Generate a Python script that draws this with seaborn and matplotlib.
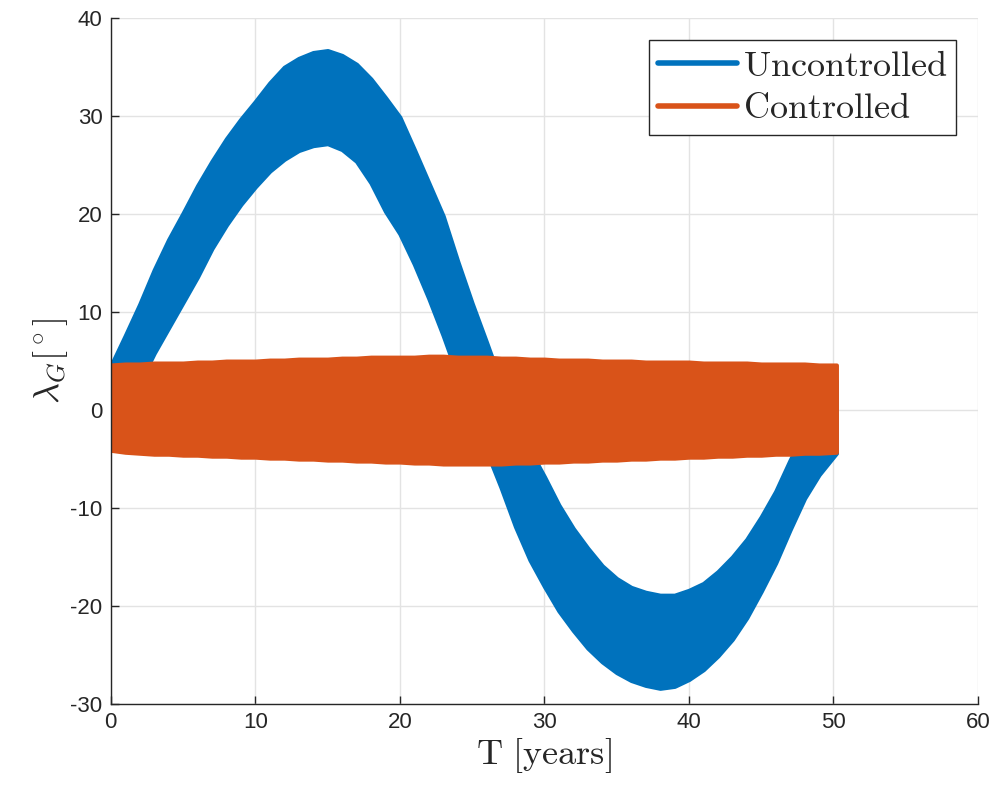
import matplotlib
matplotlib.use("Agg")
import matplotlib.pyplot as plt
import seaborn as sns
import pandas as pd

# envelope of each band (top and bottom edge), one value per year
t = [0, 1, 2, 3, 4, 5, 6, 7, 8, 9, 10, 11, 12, 13, 14, 15, 16, 17, 18, 19, 20,
     21, 22, 23, 24, 25, 26, 27, 28, 29, 30, 31, 32, 33, 34, 35, 36, 37, 38, 39, 40,
     41, 42, 43, 44, 45, 46, 47, 48, 49, 50.2]

unc_upper = [4.5, 7.6, 10.8, 14.3, 17.4, 20.1, 22.9, 25.4, 27.7, 29.7, 31.5,
             33.4, 35.0, 35.9, 36.5, 36.7, 36.2, 35.3, 33.8, 31.9, 29.9,
             26.6, 23.2, 19.8, 15.2, 10.9, 6.9, 2.8, -0.8, -4.1, -6.8,
             -9.7, -12.1, -14.1, -15.9, -17.2, -18.1, -18.6, -18.9, -18.9, -18.4,
             -17.7, -16.5, -15.0, -13.2, -10.9, -8.3, -5.1, -2.2, 0.6, 3.0]
unc_lower = [-4.0, -0.5, 2.8, 5.8, 8.4, 11.0, 13.6, 16.5, 18.9, 21.0, 22.8,
             24.4, 25.6, 26.5, 27.0, 27.2, 26.6, 25.4, 23.2, 20.3, 18.0,
             14.9, 11.4, 7.6, 3.5, -0.4, -4.2, -7.9, -11.9, -15.3, -18.0,
             -20.5, -22.5, -24.3, -25.7, -26.8, -27.6, -28.1, -28.4, -28.2, -27.5,
             -26.5, -25.1, -23.4, -21.2, -18.5, -15.6, -12.2, -9.0, -6.6, -4.4]

ctr_upper = [4.6, 4.7, 4.7, 4.8, 4.8, 4.8, 4.9, 4.9, 5.0, 5.0, 5.0,
             5.1, 5.1, 5.2, 5.2, 5.2, 5.3, 5.3, 5.4, 5.4, 5.4,
             5.4, 5.5, 5.5, 5.4, 5.4, 5.4, 5.3, 5.3, 5.2, 5.2,
             5.1, 5.1, 5.1, 5.0, 5.0, 5.0, 4.9, 4.9, 4.9, 4.9,
             4.8, 4.8, 4.8, 4.8, 4.7, 4.7, 4.7, 4.7, 4.6, 4.6]
ctr_lower = [-4.1, -4.3, -4.4, -4.5, -4.5, -4.6, -4.6, -4.7, -4.7, -4.8, -4.8,
             -4.9, -4.9, -5.0, -5.0, -5.1, -5.1, -5.2, -5.2, -5.3, -5.3,
             -5.4, -5.4, -5.5, -5.5, -5.5, -5.5, -5.5, -5.4, -5.4, -5.3,
             -5.3, -5.2, -5.2, -5.1, -5.1, -5.0, -5.0, -4.9, -4.9, -4.8,
             -4.8, -4.7, -4.7, -4.6, -4.6, -4.5, -4.5, -4.4, -4.4, -4.3]

labels = ["Uncontrolled", "Controlled"]
colors = ["#0072BD", "#D95319"]

# long table: two values per time, the band covers min..max
rows = []
for name, up, lo in [(labels[0], unc_upper, unc_lower), (labels[1], ctr_upper, ctr_lower)]:
    for ti, u, l in zip(t, up, lo):
        rows.append((ti, u, name))
        rows.append((ti, l, name))
df = pd.DataFrame(rows, columns=["t", "lam", "series"])

sns.set_theme(style="whitegrid")
plt.rcParams["font.family"] = ["Liberation Sans", "DejaVu Sans"]
plt.rcParams["mathtext.fontset"] = "cm"
plt.rcParams["axes.unicode_minus"] = False

fig = plt.figure(figsize=(9.98, 7.94), dpi=100)
ax = fig.add_axes([0.111, 0.1134, 0.869, 0.8636])

sns.lineplot(data=df, x="t", y="lam", hue="series", hue_order=labels, palette=colors,
             estimator="mean", errorbar=("pi", 100),
             err_kws={"alpha": 1, "linewidth": 3}, linewidth=0, ax=ax, legend=False)
# round off the band edges a bit like the thick line in the original
for c in ax.collections:
    c.set_edgecolor(c.get_facecolor())
    c.set_joinstyle("round")

ax.set_xlim(0, 60)
ax.set_ylim(-30, 40)
ax.set_xticks(range(0, 61, 10))
ax.set_yticks(range(-30, 41, 10))

ax.grid(True, color="#e3e3e3", linewidth=1)
ax.set_facecolor("white")
for side in ["top", "right"]:
    ax.spines[side].set_visible(False)
for side in ["left", "bottom"]:
    ax.spines[side].set_color("#262626")
    ax.spines[side].set_linewidth(1)
ax.tick_params(axis="both", direction="in", length=6, width=1, color="#262626",
               labelsize=16, labelcolor="#262626", pad=6, left=True, bottom=True)

ax.set_xlabel(r"$\mathrm{T\ [years]}$", fontsize=26, labelpad=2)
ax.set_ylabel(r"$\lambda_G[^\circ]$", fontsize=26, labelpad=0)

handles = [plt.Line2D([], [], color=c, linewidth=4) for c in colors]
leg = ax.legend(handles, [r"$\mathrm{%s}$" % s for s in labels], loc="upper right",
                fontsize=26, frameon=True, fancybox=False, framealpha=1,
                edgecolor="#262626", handlelength=2.2, handletextpad=0.15,
                borderpad=0.25, labelspacing=0.2, borderaxespad=0.6)
leg.get_frame().set_linewidth(1)

fig.savefig("out.png", dpi=100)
